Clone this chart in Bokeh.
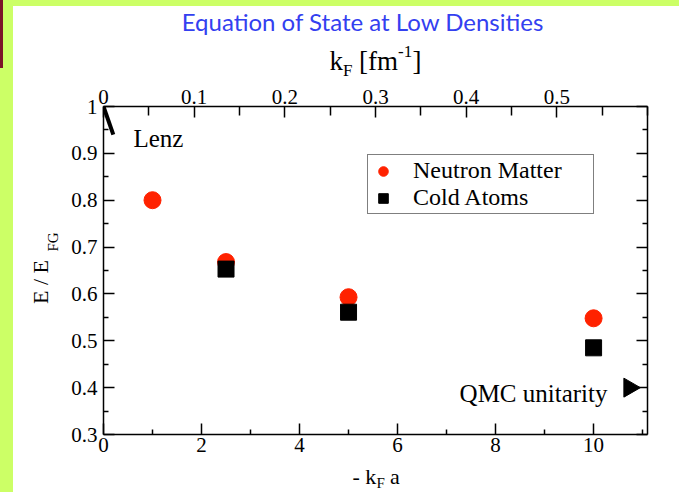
import numpy as np
from bokeh.plotting import figure
from bokeh.layouts import column, row
from bokeh.models import (Range1d, LinearAxis, FixedTicker, Label, Legend,
                          LegendItem, GlobalInlineStyleSheet)
from bokeh.core.properties import value
from bokeh.embed import file_html
from bokeh.resources import INLINE

# ---------------- data ----------------
neutron_kfa = [1.0, 2.5, 5.0, 10.0]
neutron_e = [0.800, 0.668, 0.593, 0.548]

atoms_kfa = [2.5, 5.0, 10.0]
atoms_e = [0.653, 0.561, 0.485]

lenz_kfa = [0.0, 0.2]
lenz_e = [1.0, 0.94]

qmc_kfa = [10.73]
qmc_e = [0.40]

x_ticks = [0, 2, 4, 6, 8, 10]
x_minor = [1, 3, 5, 7, 9, 11]
y_ticks = [0.3, 0.4, 0.5, 0.6, 0.7, 0.8, 0.9, 1.0]
y_tick_labels = ["0.3", "0.4", "0.5", "0.6", "0.7", "0.8", "0.9", "1"]
y_minor = [0.35, 0.45, 0.55, 0.65, 0.75, 0.85, 0.95]
kf_ticks = [0.0, 0.1, 0.2, 0.3, 0.4, 0.5]
kf_tick_labels = ["0", "0.1", "0.2", "0.3", "0.4", "0.5"]
kf_minor = [0.05, 0.15, 0.25, 0.35, 0.45, 0.55, 0.6]

# ---------------- layout (page pixels) ----------------
PAGE_X, PAGE_Y, PAGE_R, PAGE_B = 13, 6, 679, 492
FL, FR, FT, FB = 103, 647, 106, 434      # plot frame edges
MAIN_L, MAIN_T, MAIN_B = 63, 80, 462     # main figure box
X0, X1, Y0, Y1 = 0.0, 11.1, 0.3, 1.0

SERIF = "Liberation Serif"
TICK_SIZE = "21px"
# half of (ascent - descent) in em: offset from baseline to box middle
MID = {SERIF: 0.3375, "Lato": 0.387}

def blank_fig(x0, x1, y0, y1):
    f = figure(width=x1 - x0, height=y1 - y0,
               x_range=Range1d(x0, x1), y_range=Range1d(y1, y0),
               output_backend="svg", toolbar_location=None,
               title_location=None,
               x_axis_location=None, y_axis_location=None,
               min_border=0, min_border_left=0, min_border_right=0,
               min_border_top=0, min_border_bottom=0)
    f.xgrid.visible = False
    f.ygrid.visible = False
    f.outline_line_color = None
    f.background_fill_color = "white"
    f.border_fill_color = "white"
    return f

def txt(f, s, px, py, size, font=SERIF, align="left", color="black", angle=0.0):
    """px, py: anchor on the text baseline (page pixels)."""
    off = MID[font] * size
    if angle == 0.0:
        ax, ay = px, py - off
    else:  # rotated 90 deg counter-clockwise: glyph 'up' points left
        ax, ay = px - off, py
    f.text(x=[ax], y=[ay], text=[s], text_font=value(font),
           text_font_size=value(f"{size}px"), text_align=value(align),
           text_baseline=value("middle"), text_color=value(color),
           angle=value(angle))

# ---------------- main plot ----------------
p = figure(width=PAGE_R - MAIN_L, height=MAIN_B - MAIN_T,
           x_range=Range1d(X0, X1), y_range=Range1d(Y0, Y1),
           output_backend="svg", toolbar_location=None,
           title_location=None,
           x_axis_location=None, y_axis_location=None,
           min_border_left=FL - MAIN_L, min_border_right=PAGE_R - FR,
           min_border_top=FT - MAIN_T, min_border_bottom=MAIN_B - FB)
p.extra_x_ranges = {"kf": Range1d(0.0, 0.6)}
p.xgrid.visible = False
p.ygrid.visible = False
p.outline_line_color = None
p.background_fill_color = "white"
p.border_fill_color = "white"

def style_axis(ax, minor_len=5):
    ax.axis_line_color = "black"
    ax.axis_line_width = 1.5
    ax.major_tick_line_color = "black"
    ax.major_tick_line_width = 1.5
    ax.minor_tick_line_color = "black"
    ax.minor_tick_line_width = 1.5
    ax.major_tick_in = 11
    ax.major_tick_out = 0
    ax.minor_tick_in = minor_len
    ax.minor_tick_out = 0
    ax.major_label_text_font = SERIF
    ax.major_label_text_font_size = TICK_SIZE
    ax.major_label_text_color = "black"

bottom = LinearAxis(ticker=FixedTicker(ticks=x_ticks, minor_ticks=x_minor))
style_axis(bottom)
bottom.major_label_standoff = 3
p.add_layout(bottom, "below")

left = LinearAxis(ticker=FixedTicker(ticks=y_ticks, minor_ticks=y_minor),
                  major_label_overrides=dict(zip(y_ticks, y_tick_labels)))
style_axis(left)
left.major_label_standoff = 6
p.add_layout(left, "left")

top = LinearAxis(x_range_name="kf",
                 ticker=FixedTicker(ticks=kf_ticks, minor_ticks=kf_minor),
                 major_label_overrides=dict(zip(kf_ticks, kf_tick_labels)))
style_axis(top, minor_len=9)
top.major_label_standoff = 3
p.add_layout(top, "above")

right = LinearAxis(ticker=FixedTicker(ticks=y_ticks, minor_ticks=y_minor),
                   major_label_overrides={t: "" for t in y_ticks})
style_axis(right)
right.major_label_text_color = None
p.add_layout(right, "right")

p.line(lenz_kfa, lenz_e, line_width=4, line_color="black")
r_n = p.scatter(neutron_kfa, neutron_e, marker="circle", size=17,
                fill_color="#FF2200", line_color="#FF2200")
r_a = p.scatter(atoms_kfa, atoms_e, marker="square", size=16,
                fill_color="black", line_color="black")
p.scatter(qmc_kfa, qmc_e, marker="triangle", angle=-np.pi / 2, size=19,
          fill_color="black", line_color="black")

legend = Legend(items=[LegendItem(label="Neutron Matter", renderers=[r_n]),
                       LegendItem(label="Cold Atoms", renderers=[r_a])],
                location=(367 - FL, FB - 214),
                border_line_color="black", border_line_width=1.5,
                background_fill_color="white", background_fill_alpha=1.0,
                padding=2, spacing=0, margin=0,
                glyph_width=26, glyph_height=24, label_standoff=17,
                label_width=178,
                label_text_font=SERIF, label_text_font_size="24px",
                label_text_color="black", label_text_line_height=1.0)
p.add_layout(legend)

def dx(px):
    return X0 + (px - FL) / (FR - FL) * (X1 - X0)

def dy(py):
    return Y0 + (FB - py) / (FB - FT) * (Y1 - Y0)

p.add_layout(Label(x=dx(133), y=dy(138), text="Lenz", text_font=SERIF,
                   text_font_size="25px", text_baseline="alphabetic",
                   text_color="black"))
p.add_layout(Label(x=dx(607), y=dy(393), text="QMC unitarity", text_font=SERIF,
                   text_font_size="25px", text_align="right",
                   text_baseline="alphabetic", text_color="black"))

# ---------------- text panels around the plot ----------------
ft = blank_fig(PAGE_X, PAGE_R, PAGE_Y, MAIN_T)
txt(ft, "Equation of State at Low Densities", 362.5, 30, 24, font="Lato",
    align="center", color="#3340F0")
txt(ft, "k", 329, 70, 27)
txt(ft, "F", 342.5, 76, 17)
txt(ft, "[fm", 358.5, 70, 27)
txt(ft, "-1", 397.5, 57, 17)
txt(ft, "]", 412, 70, 27)

fl = blank_fig(PAGE_X, MAIN_L, MAIN_T, MAIN_B)
txt(fl, "E / E", 47, 310, 22, angle=np.pi / 2)
txt(fl, "FG", 58, 249, 15, angle=np.pi / 2)

fb = blank_fig(PAGE_X, PAGE_R, MAIN_B, PAGE_B)
txt(fb, "- k", 352, 483, 22)
txt(fb, "F", 376, 488, 15)
txt(fb, "a", 389.5, 483, 22)

mid = row(fl, p, spacing=0, styles={"background-color": "white"})
layout = column(ft, mid, fb, spacing=0, styles={"background-color": "white"})
layout.stylesheets = [GlobalInlineStyleSheet(css=(
    "html,body{margin:0;padding:0;background:#CCFF66;overflow:hidden;}"
    "body{padding:6px 0 0 13px;}"
    "body::before{content:'';position:absolute;left:0;top:0;width:3px;"
    "height:68px;background:#7B1428;}"))]

open("out.html", "w").write(file_html(layout, INLINE))
